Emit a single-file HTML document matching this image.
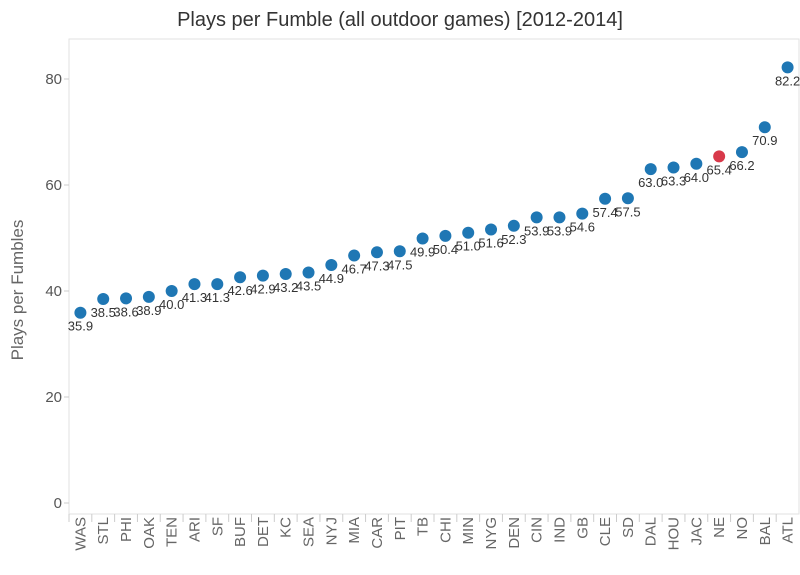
<!DOCTYPE html>
<html><head><meta charset="utf-8"><style>
body{margin:0;background:#fff;}
svg{display:block;font-family:"Liberation Sans",Arial,sans-serif;}
</style></head><body>
<svg id="chart" width="800" height="575">
<text x="400" y="26" text-anchor="middle" font-size="20" fill="#333">Plays per Fumble (all outdoor games) [2012-2014]</text>
<rect x="69" y="39" width="730" height="475" fill="none" stroke="#e2e2e2"/>
<text transform="translate(23,290) rotate(-90)" text-anchor="middle" font-size="17" fill="#666">Plays per Fumbles</text>
<g id="yaxis"></g>
<g id="xaxis"></g>
<g id="marks"></g>
</svg>
<script>
const teams=["WAS","STL","PHI","OAK","TEN","ARI","SF","BUF","DET","KC","SEA","NYJ","MIA","CAR","PIT","TB","CHI","MIN","NYG","DEN","CIN","IND","GB","CLE","SD","DAL","HOU","JAC","NE","NO","BAL","ATL"];
const values=[35.9,38.5,38.6,38.9,40.0,41.3,41.3,42.6,42.9,43.2,43.5,44.9,46.7,47.3,47.5,49.9,50.4,51.0,51.6,52.3,53.9,53.9,54.6,57.4,57.5,63.0,63.3,64.0,65.4,66.2,70.9,82.2];
const highlight=["NE"];
const yTicks=[0,20,40,60,80];
const NS="http://www.w3.org/2000/svg";
const left=69,right=799,bottom=503,pxPerUnit=5.3,axisY=514;
const band=(right-left)/teams.length;
function x(i){return left+band*(i+0.5);}
function y(v){return bottom-v*pxPerUnit;}
function mk(tag,attrs,parent,text){const e=document.createElementNS(NS,tag);for(const k in attrs)e.setAttribute(k,attrs[k]);if(text!==undefined)e.textContent=text;parent.appendChild(e);return e;}
const ya=document.getElementById('yaxis'),xa=document.getElementById('xaxis'),mg=document.getElementById('marks');
yTicks.forEach(t=>{
  const ln=mk('line',{x1:left-5,x2:left,y1:y(t),y2:y(t),stroke:'#ccc'},ya);
  
  
  const tx=mk('text',{x:left-7,y:y(t)+5,'text-anchor':'end','font-size':15,fill:'#555'},ya,String(t));
  
  
});
teams.forEach((tm,i)=>{
  const tk=mk('line',{x1:left+band*i,x2:left+band*i,y1:axisY,y2:axisY+8,stroke:'#ccc'},xa);
  
  
  const tx=mk('text',{transform:`translate(${x(i)+5},${axisY+3}) rotate(-90)`,'text-anchor':'end','font-size':15,fill:'#666'},xa,tm);
  
  
});
teams.forEach((tm,i)=>{
  const v=values[i];
  const c=mk('circle',{cx:x(i),cy:y(v),r:6,fill:highlight.includes(tm)?'#d8394a':'#1f77b4'},mg);
  
  
  const l=mk('text',{x:x(i),y:y(v)+18,'text-anchor':'middle','font-size':13,fill:'#333'},mg,v.toFixed(1));
  
  
});
</script>
</body></html>
